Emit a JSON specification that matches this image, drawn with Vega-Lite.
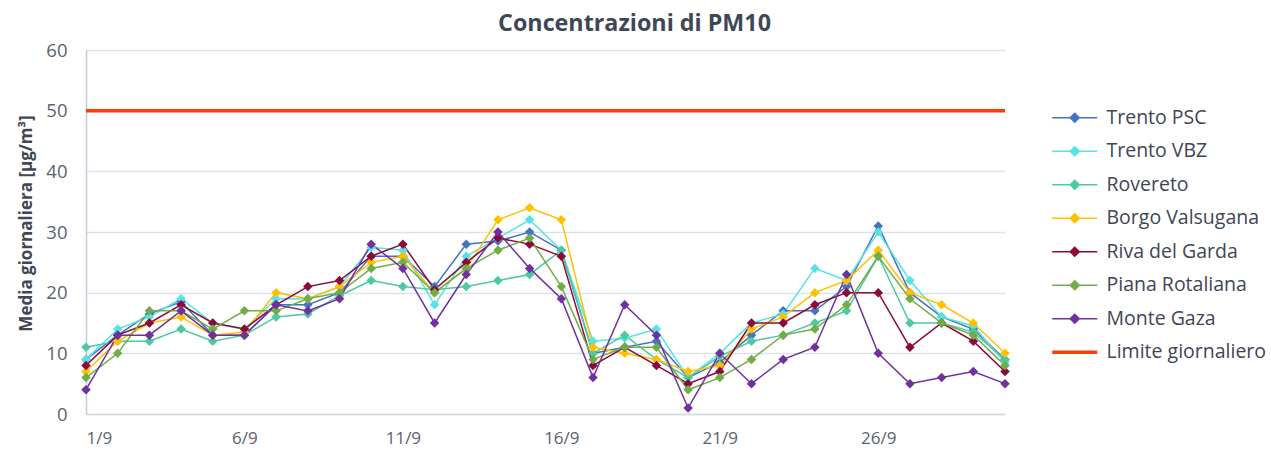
{
  "$schema": "https://vega.github.io/schema/vega-lite/v6.json",
  "width": 919,
  "height": 364,
  "autosize": "none",
  "padding": {"left": 86, "top": 50, "right": 266, "bottom": 44},
  "background": "white",
  "title": {
    "text": "Concentrazioni di PM10",
    "font": "Open Sans",
    "fontSize": 23.3,
    "fontWeight": "bold",
    "color": "#3f4756",
    "anchor": "middle",
    "dx": 89,
    "offset": 5
  },
  "config": {
    "view": {"stroke": null},
    "font": "Open Sans"
  },
  "data": {
    "values": [
      {"day": 1, "Trento PSC": 9, "Trento VBZ": 9, "Rovereto": 11, "Borgo Valsugana": 7, "Riva del Garda": 8, "Piana Rotaliana": 6, "Monte Gaza": 4, "Limite giornaliero": 50},
      {"day": 2, "Trento PSC": 13, "Trento VBZ": 14, "Rovereto": 12, "Borgo Valsugana": 12, "Riva del Garda": 13, "Piana Rotaliana": 10, "Monte Gaza": 13, "Limite giornaliero": 50},
      {"day": 3, "Trento PSC": 16.5, "Trento VBZ": 16, "Rovereto": 12, "Borgo Valsugana": 15, "Riva del Garda": 15, "Piana Rotaliana": 17, "Monte Gaza": 13, "Limite giornaliero": 50},
      {"day": 4, "Trento PSC": 18.5, "Trento VBZ": 19, "Rovereto": 14, "Borgo Valsugana": 16, "Riva del Garda": 18, "Piana Rotaliana": 17, "Monte Gaza": 17, "Limite giornaliero": 50},
      {"day": 5, "Trento PSC": 13, "Trento VBZ": 15, "Rovereto": 12, "Borgo Valsugana": 13, "Riva del Garda": 15, "Piana Rotaliana": 14, "Monte Gaza": 13, "Limite giornaliero": 50},
      {"day": 6, "Trento PSC": 13, "Trento VBZ": 14, "Rovereto": 13, "Borgo Valsugana": 13.5, "Riva del Garda": 14, "Piana Rotaliana": 17, "Monte Gaza": 13, "Limite giornaliero": 50},
      {"day": 7, "Trento PSC": 18, "Trento VBZ": 19, "Rovereto": 16, "Borgo Valsugana": 20, "Riva del Garda": 18, "Piana Rotaliana": 17, "Monte Gaza": 18, "Limite giornaliero": 50},
      {"day": 8, "Trento PSC": 18, "Trento VBZ": 19, "Rovereto": 16.5, "Borgo Valsugana": 19, "Riva del Garda": 21, "Piana Rotaliana": 19, "Monte Gaza": 17, "Limite giornaliero": 50},
      {"day": 9, "Trento PSC": 20, "Trento VBZ": 21, "Rovereto": 19.5, "Borgo Valsugana": 21, "Riva del Garda": 22, "Piana Rotaliana": 20, "Monte Gaza": 19, "Limite giornaliero": 50},
      {"day": 10, "Trento PSC": 26, "Trento VBZ": 27.5, "Rovereto": 22, "Borgo Valsugana": 25, "Riva del Garda": 26, "Piana Rotaliana": 24, "Monte Gaza": 28, "Limite giornaliero": 50},
      {"day": 11, "Trento PSC": 26, "Trento VBZ": 27, "Rovereto": 21, "Borgo Valsugana": 26, "Riva del Garda": 28, "Piana Rotaliana": 25, "Monte Gaza": 24, "Limite giornaliero": 50},
      {"day": 12, "Trento PSC": 21, "Trento VBZ": 18, "Rovereto": 20.5, "Borgo Valsugana": 20, "Riva del Garda": 20.5, "Piana Rotaliana": 20, "Monte Gaza": 15, "Limite giornaliero": 50},
      {"day": 13, "Trento PSC": 28, "Trento VBZ": 26, "Rovereto": 21, "Borgo Valsugana": 24, "Riva del Garda": 25, "Piana Rotaliana": 24, "Monte Gaza": 23, "Limite giornaliero": 50},
      {"day": 14, "Trento PSC": 28.5, "Trento VBZ": 29, "Rovereto": 22, "Borgo Valsugana": 32, "Riva del Garda": 29, "Piana Rotaliana": 27, "Monte Gaza": 30, "Limite giornaliero": 50},
      {"day": 15, "Trento PSC": 30, "Trento VBZ": 32, "Rovereto": 23, "Borgo Valsugana": 34, "Riva del Garda": 28, "Piana Rotaliana": 29, "Monte Gaza": 24, "Limite giornaliero": 50},
      {"day": 16, "Trento PSC": 27, "Trento VBZ": 27, "Rovereto": 27, "Borgo Valsugana": 32, "Riva del Garda": 26, "Piana Rotaliana": 21, "Monte Gaza": 19, "Limite giornaliero": 50},
      {"day": 17, "Trento PSC": 10, "Trento VBZ": 12, "Rovereto": 10, "Borgo Valsugana": 11, "Riva del Garda": 8, "Piana Rotaliana": 9, "Monte Gaza": 6, "Limite giornaliero": 50},
      {"day": 18, "Trento PSC": 11, "Trento VBZ": 12.5, "Rovereto": 13, "Borgo Valsugana": 10, "Riva del Garda": 11, "Piana Rotaliana": 11, "Monte Gaza": 18, "Limite giornaliero": 50},
      {"day": 19, "Trento PSC": 12, "Trento VBZ": 14, "Rovereto": 9, "Borgo Valsugana": 9, "Riva del Garda": 8, "Piana Rotaliana": 11, "Monte Gaza": 13, "Limite giornaliero": 50},
      {"day": 20, "Trento PSC": 6, "Trento VBZ": 6, "Rovereto": 6, "Borgo Valsugana": 7, "Riva del Garda": 5, "Piana Rotaliana": 4, "Monte Gaza": 1, "Limite giornaliero": 50},
      {"day": 21, "Trento PSC": 8.5, "Trento VBZ": 10, "Rovereto": 9.5, "Borgo Valsugana": 8, "Riva del Garda": 7, "Piana Rotaliana": 6, "Monte Gaza": 10, "Limite giornaliero": 50},
      {"day": 22, "Trento PSC": 13, "Trento VBZ": 15, "Rovereto": 12, "Borgo Valsugana": 14, "Riva del Garda": 15, "Piana Rotaliana": 9, "Monte Gaza": 5, "Limite giornaliero": 50},
      {"day": 23, "Trento PSC": 17, "Trento VBZ": 16.5, "Rovereto": 13, "Borgo Valsugana": 16, "Riva del Garda": 15, "Piana Rotaliana": 13, "Monte Gaza": 9, "Limite giornaliero": 50},
      {"day": 24, "Trento PSC": 17, "Trento VBZ": 24, "Rovereto": 15, "Borgo Valsugana": 20, "Riva del Garda": 18, "Piana Rotaliana": 14, "Monte Gaza": 11, "Limite giornaliero": 50},
      {"day": 25, "Trento PSC": 21, "Trento VBZ": 22, "Rovereto": 17, "Borgo Valsugana": 22, "Riva del Garda": 20, "Piana Rotaliana": 18, "Monte Gaza": 23, "Limite giornaliero": 50},
      {"day": 26, "Trento PSC": 31, "Trento VBZ": 30, "Rovereto": 26, "Borgo Valsugana": 27, "Riva del Garda": 20, "Piana Rotaliana": 26, "Monte Gaza": 10, "Limite giornaliero": 50},
      {"day": 27, "Trento PSC": 20, "Trento VBZ": 22, "Rovereto": 15, "Borgo Valsugana": 20, "Riva del Garda": 11, "Piana Rotaliana": 19, "Monte Gaza": 5, "Limite giornaliero": 50},
      {"day": 28, "Trento PSC": 16, "Trento VBZ": 16, "Rovereto": 15, "Borgo Valsugana": 18, "Riva del Garda": 15, "Piana Rotaliana": 15, "Monte Gaza": 6, "Limite giornaliero": 50},
      {"day": 29, "Trento PSC": 14, "Trento VBZ": 14.5, "Rovereto": 13.5, "Borgo Valsugana": 15, "Riva del Garda": 12, "Piana Rotaliana": 13, "Monte Gaza": 7, "Limite giornaliero": 50},
      {"day": 30, "Trento PSC": 9, "Trento VBZ": 8.5, "Rovereto": 9, "Borgo Valsugana": 10, "Riva del Garda": 7, "Piana Rotaliana": 8, "Monte Gaza": 5, "Limite giornaliero": 50}
    ]
  },
  "transform": [
    {"fold": ["Trento PSC", "Trento VBZ", "Rovereto", "Borgo Valsugana", "Riva del Garda", "Piana Rotaliana", "Monte Gaza", "Limite giornaliero"], "as": ["series", "value"]}
  ],
  "encoding": {
    "x": {
      "field": "day",
      "type": "quantitative",
      "scale": {"domain": [1, 30], "nice": false, "zero": false},
      "axis": {
        "title": null,
        "values": [1, 6, 11, 16, 21, 26],
        "labelExpr": "datum.value + '/9'",
        "grid": false,
        "ticks": false,
        "labelFont": "Open Sans",
        "labelFontSize": 17,
        "labelColor": "#5a6270",
        "labelPadding": 16,
        "domainColor": "#d4d9e2",
        "domainWidth": 1.5
      }
    },
    "y": {
      "field": "value",
      "type": "quantitative",
      "scale": {"domain": [0, 60], "nice": false},
      "axis": {
        "title": "Media giornaliera [µg/m³]",
        "titleFont": "Open Sans",
        "titleFontSize": 17,
        "titleFontWeight": "bold",
        "titleColor": "#3f4756",
        "titleX": -51,
        "titleY": 173,
        "values": [0, 10, 20, 30, 40, 50, 60],
        "ticks": false,
        "labelFont": "Open Sans",
        "labelFontSize": 18.5,
        "labelColor": "#5a6270",
        "labelPadding": 19,
        "gridColor": "#dde1e8",
        "gridWidth": 1.5,
        "domainColor": "#c4cdda",
        "domainWidth": 1.5
      }
    },
    "color": {
      "field": "series",
      "type": "nominal",
      "scale": {
        "domain": ["Trento PSC", "Trento VBZ", "Rovereto", "Borgo Valsugana", "Riva del Garda", "Piana Rotaliana", "Monte Gaza", "Limite giornaliero"],
        "range": ["#4472c4", "#55e3e3", "#4cc9a0", "#ffc000", "#8b0a3a", "#70ad47", "#7030a0", "#ff3c0a"]
      }
    }
  },
  "layer": [
    {
      "mark": {"type": "line"},
      "encoding": {
        "strokeWidth": {"condition": {"test": "datum.series === 'Limite giornaliero'", "value": 3.5}, "value": 1.5},
        "color": {
          "field": "series",
          "type": "nominal",
          "sort": ["Trento PSC", "Trento VBZ", "Rovereto", "Borgo Valsugana", "Riva del Garda", "Piana Rotaliana", "Monte Gaza", "Limite giornaliero"],
          "legend": {
            "title": null,
            "orient": "none",
            "legendX": 979,
            "legendY": 58,
            "symbolType": "M-1,0L1,0",
            "symbolSize": 2025,
            "symbolStrokeWidth": 1.5,
            "labelFont": "Open Sans",
            "labelFontSize": 19.5,
            "labelColor": "#404654",
            "labelOffset": 22,
            "rowPadding": 12.5,
            "encode": {
              "symbols": {
                "update": {
                  "shape": {"signal": "datum.value === 'Limite giornaliero' ? 'M-1,0L1,0' : 'M-1,0L1,0M0,-0.2L0.2,0L0,0.2L-0.2,0Z'"},
                  "fill": {"signal": "scale('color', datum.value)"},
                  "strokeWidth": {"signal": "datum.value === 'Limite giornaliero' ? 3.5 : 1.5"}
                }
              }
            }
          }
        }
      }
    },
    {
      "transform": [{"filter": "datum.series !== 'Limite giornaliero'"}],
      "mark": {"type": "point", "shape": "diamond", "filled": true, "size": 90, "opacity": 1},
      "encoding": {
        "color": {"field": "series", "type": "nominal", "legend": null}
      }
    }
  ]
}
